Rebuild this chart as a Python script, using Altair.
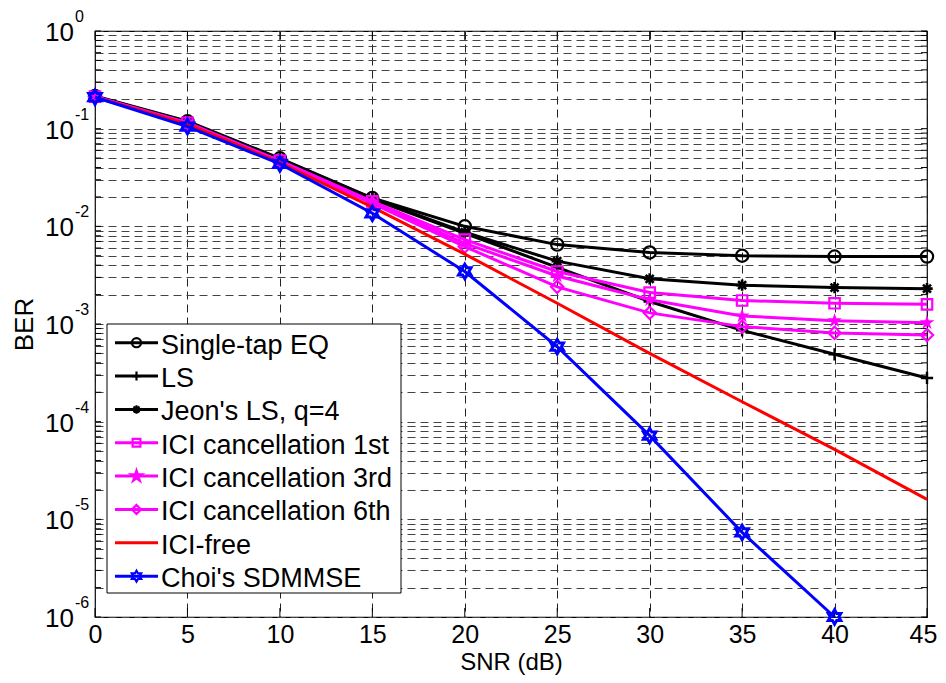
import altair as alt
import pandas as pd

# ---------------- data ----------------
snr = [0, 5, 10, 15, 20, 25, 30, 35, 40, 45]
single_tap = [0.216, 0.119, 0.0497, 0.0195, 0.0100, 0.0065, 0.0054, 0.0050, 0.0049, 0.0049]
ls = [0.213, 0.115, 0.048, 0.0190, 0.0085, 0.0038, 0.0017, 0.00086, 0.00049, 0.00028]
jeon = [0.214, 0.117, 0.049, 0.0193, 0.0087, 0.0044, 0.0029, 0.0025, 0.00236, 0.0023]
ici_1st = [0.213, 0.115, 0.047, 0.0180, 0.0073, 0.00345, 0.0021, 0.00174, 0.00163, 0.00159]
ici_3rd = [0.212, 0.113, 0.046, 0.0175, 0.0067, 0.0031, 0.00177, 0.00121, 0.00108, 0.00103]
ici_6th = [0.211, 0.112, 0.045, 0.0172, 0.0062, 0.0024, 0.0013, 0.00094, 0.00081, 0.00077]
ici_free = [0.210, 0.111, 0.045, 0.0157, 0.0052, 0.00163, 0.0005, 0.00016, 0.000052, 0.000016]
choi = [0.210, 0.105, 0.0435, 0.0136, 0.00345, 0.000585, 0.000072, 0.00000735, 0.0000010]

names = ["Single-tap EQ", "LS", "Jeon's LS, q=4", "ICI cancellation 1st",
         "ICI cancellation 3rd", "ICI cancellation 6th", "ICI-free", "Choi's SDMMSE"]
values = [single_tap, ls, jeon, ici_1st, ici_3rd, ici_6th, ici_free, choi]
colors = ["#000000", "#000000", "#000000", "#FF00FF", "#FF00FF", "#FF00FF", "#FF0000", "#0000FF"]

decades = [0, -1, -2, -3, -4, -5, -6]
y_grid = [m * 10.0 ** e for e in range(-6, 0) for m in range(1, 10)] + [1.0]

# ---------------- marker shapes ----------------
PLUS = "M-1,0L1,0M0,-1L0,1"
ASTER = "M-1,0L1,0M0,-1L0,1M-0.7,-0.7L0.7,0.7M-0.7,0.7L0.7,-0.7"
DIAMOND = "M0,-1L1,0L0,1L-1,0Z"
PENTA = ("M0,-1L0.2245,-0.309L0.951,-0.309L0.3633,0.118L0.588,0.809L0,0.382"
         "L-0.588,0.809L-0.3633,0.118L-0.951,-0.309L-0.2245,-0.309Z")
HEXA = ("M0,-1L0.2887,-0.5L0.866,-0.5L0.577,0L0.866,0.5L0.2887,0.5L0,1"
        "L-0.2887,0.5L-0.866,0.5L-0.577,0L-0.866,-0.5L-0.2887,-0.5Z")
shapes = ["circle", PLUS, ASTER, "square", PENTA, DIAMOND, None, HEXA]
filled = [False, False, False, False, True, False, False, False]
msize = [150, 150, 130, 110, 240, 150, 0, 210]
mstroke = [2.2, 2.4, 2.6, 2.2, 2.2, 2.2, 2.2, 3.0]

W, H = 832, 586
FONT = "Liberation Sans"

x_enc = alt.X("snr:Q", scale=alt.Scale(domain=[0, 45], nice=False, zero=False),
              axis=alt.Axis(values=snr, grid=True, gridDash=[8, 5], gridColor="#222222",
                            gridWidth=1, ticks=False, tickSize=0, domain=False,
                            labelFontSize=25, labelPadding=5, labelColor="#000000",
                            labelFlush=False, labelOverlap=False,
                            labelOffset={"condition": {"test": "datum.value == 45", "value": -4},
                                         "value": 0},
                            title="SNR (dB)", titleFontSize=24, titleFontWeight="normal",
                            titleColor="#000000", titleBaseline="alphabetic", titleY=52.5))
y_enc = alt.Y("ber:Q", scale=alt.Scale(type="log", domain=[1e-6, 1], nice=False),
              axis=alt.Axis(values=y_grid, labels=False, grid=True, gridDash=[8, 5],
                            gridColor="#444444", gridWidth=1, ticks=False, tickSize=0,
                            domain=False, title="BER", titleFontSize=26,
                            titleFontWeight="normal", titleColor="#000000", titlePadding=58))

layers = []

# inner tick marks
gdf = pd.DataFrame({"ber": y_grid})
layers.append(alt.Chart(gdf).mark_rule(color="black", strokeWidth=1).encode(
    y=y_enc, x=alt.value(0), x2=alt.value(6)))
layers.append(alt.Chart(gdf).mark_rule(color="black", strokeWidth=1).encode(
    y=y_enc, x=alt.value(W - 6), x2=alt.value(W)))
xdf = pd.DataFrame({"snr": snr})
layers.append(alt.Chart(xdf).mark_rule(color="black", strokeWidth=1).encode(
    x=x_enc, y=alt.value(H - 9), y2=alt.value(H)))
layers.append(alt.Chart(xdf).mark_rule(color="black", strokeWidth=1).encode(
    x=x_enc, y=alt.value(0), y2=alt.value(9)))

# series
for name, vals, col, shp, fl, sz, sw in zip(names, values, colors, shapes, filled, msize, mstroke):
    df = pd.DataFrame({"snr": snr[:len(vals)], "ber": vals, "series": name})
    layers.append(alt.Chart(df).mark_line(color=col, strokeWidth=3).encode(x=x_enc, y=y_enc))
    if shp is not None:
        layers.append(alt.Chart(df).mark_point(
            shape=shp, filled=fl, size=sz, color=col, strokeWidth=sw, opacity=1
        ).encode(x=x_enc, y=y_enc))

# y tick labels: 10 with superscript exponent
dec = pd.DataFrame({"ber": [10.0 ** e for e in decades], "base": "10",
                    "exp": [str(e) for e in decades]})
layers.append(alt.Chart(dec).mark_text(align="right", baseline="middle", fontSize=26,
                                       dy=2, color="black").encode(
    x=alt.value(-21), y=y_enc, text="base:N"))
layers.append(alt.Chart(dec).mark_text(align="left", baseline="middle", fontSize=16,
                                       dy=-14, color="black").encode(
    x=alt.value(-20), y=y_enc, text="exp:N"))

# legend (drawn in pixel space)
LX0, LX1, LY0, LY1 = 12, 306, 293, 562
ROW0, STEP = 311.7, 33.35
box = alt.Chart(pd.DataFrame({"k": [0]})).mark_rect(
    fill="white", stroke="black", strokeWidth=1).encode(
    x=alt.value(LX0), x2=alt.value(LX1), y=alt.value(LY0), y2=alt.value(LY1))
layers.append(box)

leg = pd.DataFrame({
    "name": names, "idx": list(range(len(names))), "col": colors,
    "shape": [s if s is not None else "circle" for s in shapes],
    "fillc": [c if f else "transparent" for c, f in zip(colors, filled)],
    "msz": [s * 0.55 for s in msize],
})
legbase = alt.Chart(leg).transform_calculate(py=f"{ROW0} + datum.idx * {STEP}")
py = alt.Y("py:Q", scale=None, axis=None)
layers.append(legbase.mark_rule(strokeWidth=3).encode(
    x=alt.value(20), x2=alt.value(63), y=py, color=alt.Color("col:N", scale=None)))
layers.append(legbase.transform_filter("datum.msz > 0").mark_point(strokeWidth=2.2, opacity=1).encode(
    x=alt.value(41.5), y=py,
    shape=alt.Shape("shape:N", scale=None),
    stroke=alt.Stroke("col:N", scale=None),
    fill=alt.Fill("fillc:N", scale=None),
    size=alt.Size("msz:Q", scale=None)))
layers.append(legbase.mark_text(align="left", baseline="middle", fontSize=27, dy=3,
                                color="black").encode(
    x=alt.value(66), y=py, text="name:N"))

chart = alt.layer(*layers).properties(
    width=W, height=H,
    autosize=alt.AutoSizeParams(type="none"),
    padding={"left": 87, "top": 23, "right": 11, "bottom": 58},
).configure(font=FONT).configure_view(stroke="black", strokeWidth=1.2)

chart.save("out.html", embed_options={"renderer": "svg", "actions": False})
